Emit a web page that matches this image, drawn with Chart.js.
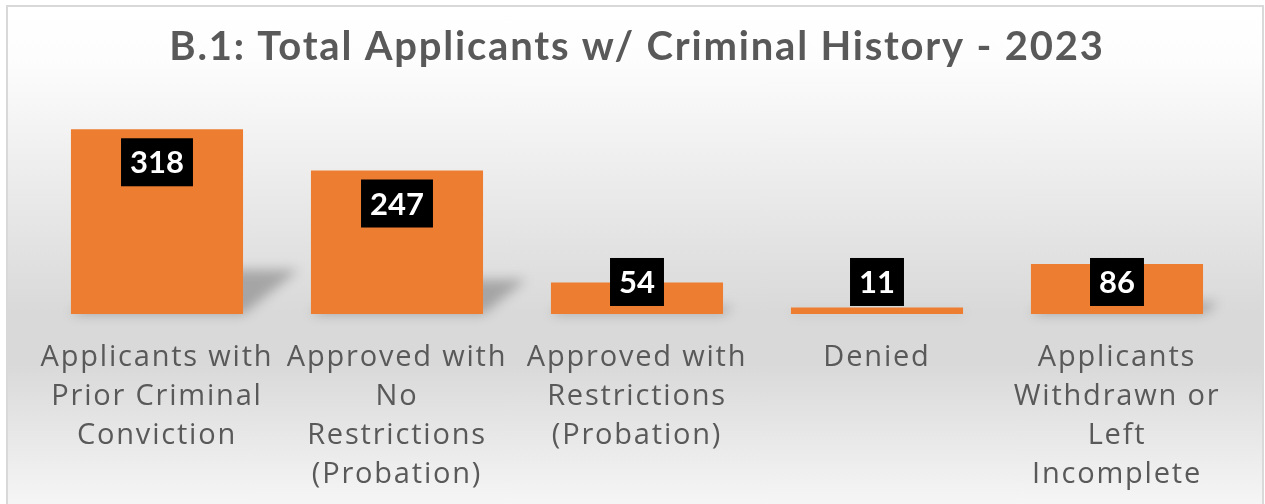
<!DOCTYPE html>
<html>
<head>
<meta charset="utf-8">
<script src="https://cdn.jsdelivr.net/npm/chart.js@4/dist/chart.umd.min.js"></script>
<style>
  html, body { margin: 0; padding: 0; background: #ffffff; overflow: hidden; }
  #frame {
    position: absolute; left: 6px; top: 5px;
    width: 1258px; height: 530px;
    box-sizing: border-box;
    border: 2px solid #d9d9d9;
    background: linear-gradient(to bottom, #ffffff 0%, #fdfdfd 10%, #d9d9d9 58%, #d9d9d9 68%, #f5f5f5 94%, #fafafa 100%);
  }
</style>
</head>
<body>
<div id="frame"><canvas id="applicantsChart"></canvas></div>
<script>
// B.1 applicants with criminal history, 2023
const categories = [
    ['Applicants with', 'Prior Criminal', 'Conviction'],
    ['Approved with', 'No', 'Restrictions', '(Probation)'],
    ['Approved with', 'Restrictions', '(Probation)'],
    'Denied',
    ['Applicants', 'Withdrawn or', 'Left', 'Incomplete']
];
const applicantCounts = [318, 247, 54, 11, 86];
const chartTitle = 'B.1: Total Applicants w/ Criminal History - 2023';

const barColor = '#ED7D31';
const textGray = '#595959';

// the original font is wider than anything installed, so open the letters up a bit
const wideText = {
    id: 'wideText',
    beforeDraw(chart) {
        chart.ctx.letterSpacing = '1.8px';
    }
};

// soft perspective shadow behind each bar
const barShadows = {
    id: 'barShadows',
    beforeDatasetsDraw(chart) {
        const ctx = chart.ctx;
        const meta = chart.getDatasetMeta(0);
        ctx.save();
        ctx.filter = 'blur(6px)';
        ctx.fillStyle = 'rgba(0,0,0,0.25)';
        meta.data.forEach(bar => {
            const h = bar.base - bar.y;
            const left = bar.x - bar.width / 2;
            const right = bar.x + bar.width / 2;
            const sh = h * 0.24, dx = h * 0.3;
            ctx.beginPath();
            ctx.moveTo(left, bar.base);
            ctx.lineTo(right, bar.base);
            ctx.lineTo(right + dx, bar.base - sh);
            ctx.lineTo(left + dx, bar.base - sh);
            ctx.closePath();
            ctx.fill();
        });
        ctx.restore();
    }
};

// black boxed value labels at the inside end of the bars
const boxedLabels = {
    id: 'boxedLabels',
    afterDatasetsDraw(chart) {
        const ctx = chart.ctx;
        const meta = chart.getDatasetMeta(0);
        const values = chart.data.datasets[0].data;
        ctx.save();
        ctx.letterSpacing = '0px';
        ctx.font = 'bold 31px Lato';
        ctx.textAlign = 'center';
        ctx.textBaseline = 'middle';
        meta.data.forEach((bar, i) => {
            const text = String(values[i]);
            const boxW = ctx.measureText(text).width + 18;
            const boxH = 48;
            const top = Math.min(bar.y + 9, bar.base - 8 - boxH);
            ctx.fillStyle = '#000000';
            ctx.fillRect(bar.x - boxW / 2, top, boxW, boxH);
            ctx.fillStyle = '#ffffff';
            ctx.fillText(text, bar.x, top + boxH / 2 + 1);
        });
        ctx.restore();
    }
};

new Chart(document.getElementById('applicantsChart'), {
    type: 'bar',
    data: {
        labels: categories,
        datasets: [{
            data: applicantCounts,
            backgroundColor: barColor,
            borderWidth: 0,
            categoryPercentage: 1,
            barPercentage: 0.717
        }]
    },
    options: {
        responsive: true,
        maintainAspectRatio: false,
        animation: false,
        layout: { padding: { left: 29, right: 25, top: 0, bottom: 15 } },
        plugins: {
            legend: { display: false },
            tooltip: { enabled: false },
            title: {
                display: true,
                text: chartTitle,
                color: textGray,
                font: { family: 'Lato', size: 40, weight: 'bold' },
                padding: { top: 16, bottom: 42 }
            }
        },
        scales: {
            x: {
                grid: { display: false, drawTicks: false },
                border: { display: false },
                ticks: {
                    color: textGray,
                    font: { family: 'Open Sans', size: 29, lineHeight: 1.345 },
                    padding: 24,
                    maxRotation: 0,
                    autoSkip: false
                }
            },
            y: {
                display: false,
                min: 0,
                max: 346
            }
        }
    },
    plugins: [wideText, barShadows, boxedLabels]
});
</script>
</body>
</html>
